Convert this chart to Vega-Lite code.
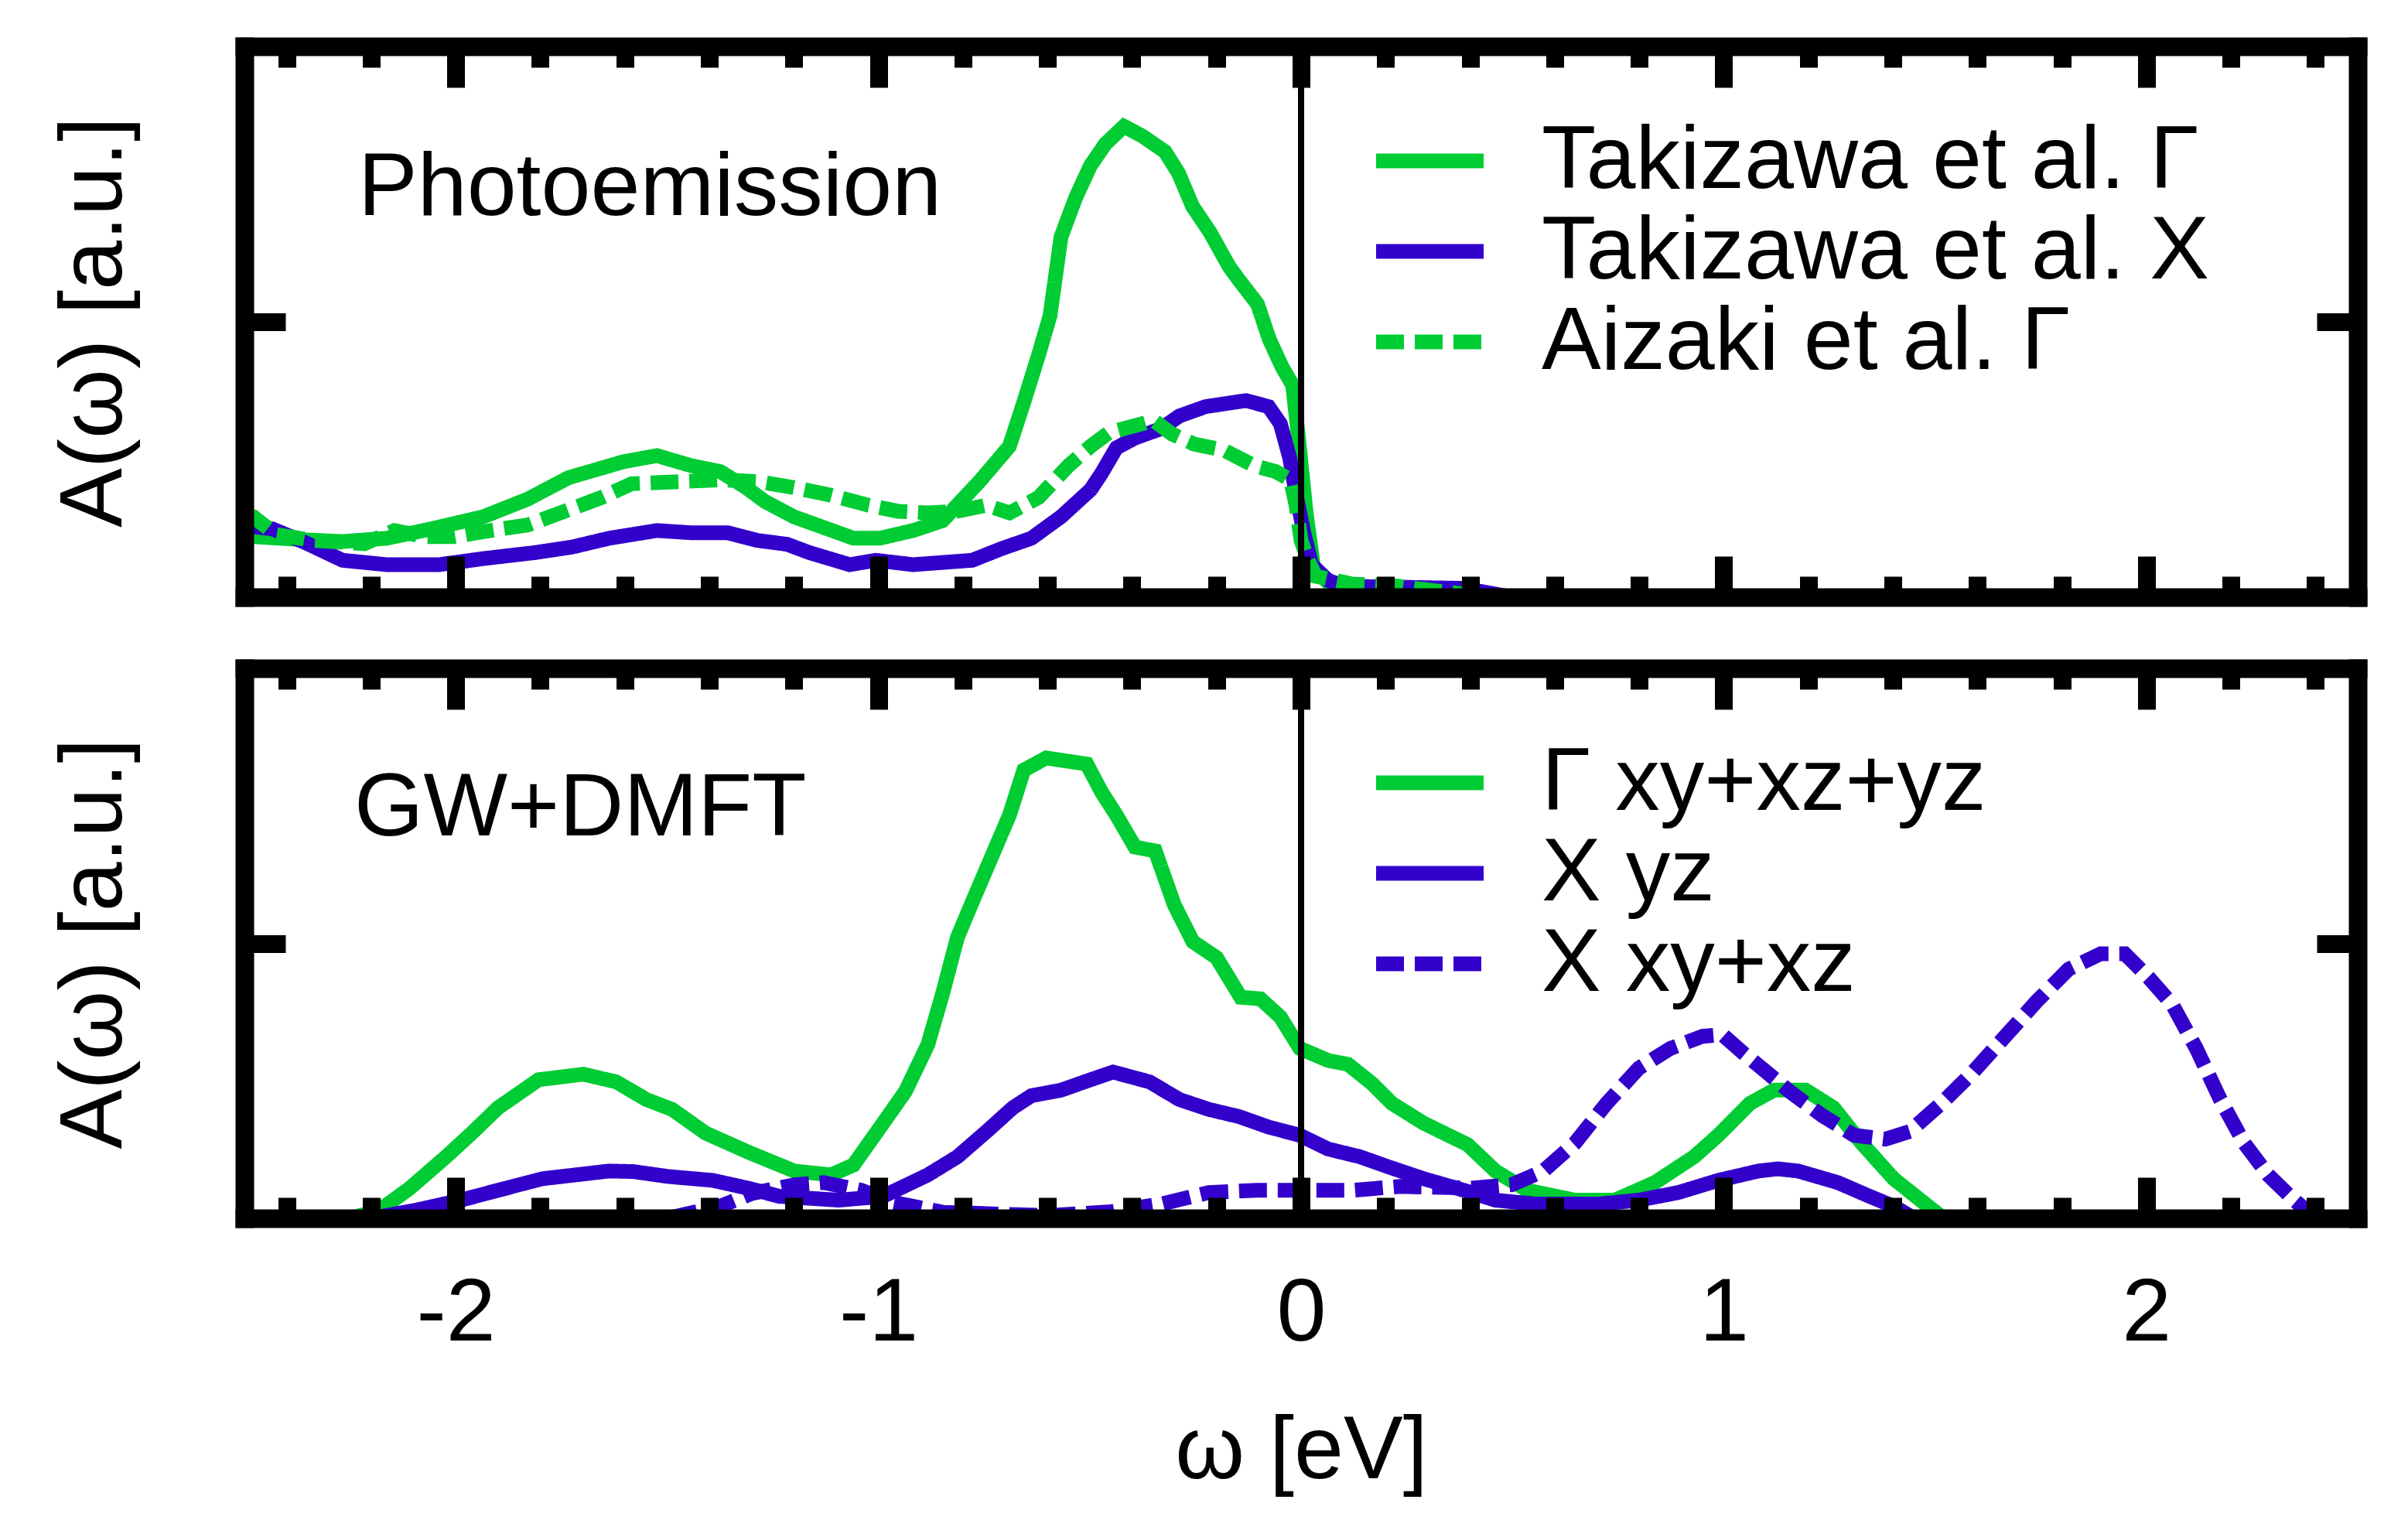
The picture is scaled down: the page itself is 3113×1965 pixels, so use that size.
{
  "$schema": "https://vega.github.io/schema/vega-lite/v6.json",
  "description": "Spectral function A(w): photoemission vs GW+DMFT",
  "background": "white",
  "padding": {"left": 64, "top": 48, "right": 20, "bottom": 10},
  "datasets": {
    "photo": [
      {"w": -2.5, "A": 0.112, "series": "Takizawa et al. Γ"},
      {"w": -2.479, "A": 0.110, "series": "Takizawa et al. Γ"},
      {"w": -2.356, "A": 0.104, "series": "Takizawa et al. Γ"},
      {"w": -2.268, "A": 0.101, "series": "Takizawa et al. Γ"},
      {"w": -2.163, "A": 0.107, "series": "Takizawa et al. Γ"},
      {"w": -2.058, "A": 0.124, "series": "Takizawa et al. Γ"},
      {"w": -1.935, "A": 0.146, "series": "Takizawa et al. Γ"},
      {"w": -1.830, "A": 0.178, "series": "Takizawa et al. Γ"},
      {"w": -1.733, "A": 0.217, "series": "Takizawa et al. Γ"},
      {"w": -1.603, "A": 0.246, "series": "Takizawa et al. Γ"},
      {"w": -1.524, "A": 0.257, "series": "Takizawa et al. Γ"},
      {"w": -1.444, "A": 0.239, "series": "Takizawa et al. Γ"},
      {"w": -1.374, "A": 0.228, "series": "Takizawa et al. Γ"},
      {"w": -1.313, "A": 0.199, "series": "Takizawa et al. Γ"},
      {"w": -1.269, "A": 0.174, "series": "Takizawa et al. Γ"},
      {"w": -1.200, "A": 0.146, "series": "Takizawa et al. Γ"},
      {"w": -1.059, "A": 0.107, "series": "Takizawa et al. Γ"},
      {"w": -0.997, "A": 0.107, "series": "Takizawa et al. Γ"},
      {"w": -0.918, "A": 0.121, "series": "Takizawa et al. Γ"},
      {"w": -0.848, "A": 0.139, "series": "Takizawa et al. Γ"},
      {"w": -0.761, "A": 0.210, "series": "Takizawa et al. Γ"},
      {"w": -0.690, "A": 0.274, "series": "Takizawa et al. Γ"},
      {"w": -0.656, "A": 0.354, "series": "Takizawa et al. Γ"},
      {"w": -0.621, "A": 0.440, "series": "Takizawa et al. Γ"},
      {"w": -0.594, "A": 0.511, "series": "Takizawa et al. Γ"},
      {"w": -0.568, "A": 0.654, "series": "Takizawa et al. Γ"},
      {"w": -0.533, "A": 0.726, "series": "Takizawa et al. Γ"},
      {"w": -0.498, "A": 0.784, "series": "Takizawa et al. Γ"},
      {"w": -0.463, "A": 0.823, "series": "Takizawa et al. Γ"},
      {"w": -0.419, "A": 0.855, "series": "Takizawa et al. Γ"},
      {"w": -0.375, "A": 0.837, "series": "Takizawa et al. Γ"},
      {"w": -0.322, "A": 0.809, "series": "Takizawa et al. Γ"},
      {"w": -0.290, "A": 0.770, "series": "Takizawa et al. Γ"},
      {"w": -0.257, "A": 0.710, "series": "Takizawa et al. Γ"},
      {"w": -0.215, "A": 0.662, "series": "Takizawa et al. Γ"},
      {"w": -0.170, "A": 0.600, "series": "Takizawa et al. Γ"},
      {"w": -0.147, "A": 0.576, "series": "Takizawa et al. Γ"},
      {"w": -0.103, "A": 0.532, "series": "Takizawa et al. Γ"},
      {"w": -0.075, "A": 0.468, "series": "Takizawa et al. Γ"},
      {"w": -0.045, "A": 0.418, "series": "Takizawa et al. Γ"},
      {"w": -0.020, "A": 0.385, "series": "Takizawa et al. Γ"},
      {"w": -0.007, "A": 0.296, "series": "Takizawa et al. Γ"},
      {"w": 0.012, "A": 0.153, "series": "Takizawa et al. Γ"},
      {"w": 0.030, "A": 0.052, "series": "Takizawa et al. Γ"},
      {"w": 0.068, "A": 0.024, "series": "Takizawa et al. Γ"},
      {"w": 0.150, "A": 0.018, "series": "Takizawa et al. Γ"},
      {"w": 0.300, "A": 0.008, "series": "Takizawa et al. Γ"},
      {"w": 0.500, "A": 0.0, "series": "Takizawa et al. Γ"},
      {"w": 2.5, "A": 0.0, "series": "Takizawa et al. Γ"},

      {"w": -2.5, "A": 0.132, "series": "Takizawa et al. X"},
      {"w": -2.479, "A": 0.128, "series": "Takizawa et al. X"},
      {"w": -2.434, "A": 0.124, "series": "Takizawa et al. X"},
      {"w": -2.356, "A": 0.099, "series": "Takizawa et al. X"},
      {"w": -2.268, "A": 0.067, "series": "Takizawa et al. X"},
      {"w": -2.163, "A": 0.059, "series": "Takizawa et al. X"},
      {"w": -2.040, "A": 0.059, "series": "Takizawa et al. X"},
      {"w": -1.935, "A": 0.070, "series": "Takizawa et al. X"},
      {"w": -1.812, "A": 0.081, "series": "Takizawa et al. X"},
      {"w": -1.725, "A": 0.091, "series": "Takizawa et al. X"},
      {"w": -1.637, "A": 0.107, "series": "Takizawa et al. X"},
      {"w": -1.524, "A": 0.121, "series": "Takizawa et al. X"},
      {"w": -1.444, "A": 0.117, "series": "Takizawa et al. X"},
      {"w": -1.357, "A": 0.117, "series": "Takizawa et al. X"},
      {"w": -1.286, "A": 0.103, "series": "Takizawa et al. X"},
      {"w": -1.216, "A": 0.096, "series": "Takizawa et al. X"},
      {"w": -1.164, "A": 0.081, "series": "Takizawa et al. X"},
      {"w": -1.068, "A": 0.059, "series": "Takizawa et al. X"},
      {"w": -1.006, "A": 0.067, "series": "Takizawa et al. X"},
      {"w": -0.918, "A": 0.059, "series": "Takizawa et al. X"},
      {"w": -0.778, "A": 0.067, "series": "Takizawa et al. X"},
      {"w": -0.709, "A": 0.088, "series": "Takizawa et al. X"},
      {"w": -0.638, "A": 0.107, "series": "Takizawa et al. X"},
      {"w": -0.568, "A": 0.146, "series": "Takizawa et al. X"},
      {"w": -0.498, "A": 0.195, "series": "Takizawa et al. X"},
      {"w": -0.472, "A": 0.225, "series": "Takizawa et al. X"},
      {"w": -0.437, "A": 0.271, "series": "Takizawa et al. X"},
      {"w": -0.393, "A": 0.289, "series": "Takizawa et al. X"},
      {"w": -0.331, "A": 0.306, "series": "Takizawa et al. X"},
      {"w": -0.288, "A": 0.329, "series": "Takizawa et al. X"},
      {"w": -0.226, "A": 0.346, "series": "Takizawa et al. X"},
      {"w": -0.130, "A": 0.357, "series": "Takizawa et al. X"},
      {"w": -0.077, "A": 0.346, "series": "Takizawa et al. X"},
      {"w": -0.049, "A": 0.315, "series": "Takizawa et al. X"},
      {"w": -0.027, "A": 0.253, "series": "Takizawa et al. X"},
      {"w": -0.012, "A": 0.188, "series": "Takizawa et al. X"},
      {"w": 0.0065, "A": 0.117, "series": "Takizawa et al. X"},
      {"w": 0.025, "A": 0.059, "series": "Takizawa et al. X"},
      {"w": 0.063, "A": 0.031, "series": "Takizawa et al. X"},
      {"w": 0.100, "A": 0.020, "series": "Takizawa et al. X"},
      {"w": 0.385, "A": 0.016, "series": "Takizawa et al. X"},
      {"w": 0.500, "A": 0.0, "series": "Takizawa et al. X"},
      {"w": 2.5, "A": 0.0, "series": "Takizawa et al. X"},

      {"w": -2.5, "A": 0.150, "series": "Aizaki et al. Γ"},
      {"w": -2.479, "A": 0.146, "series": "Aizaki et al. Γ"},
      {"w": -2.426, "A": 0.114, "series": "Aizaki et al. Γ"},
      {"w": -2.338, "A": 0.103, "series": "Aizaki et al. Γ"},
      {"w": -2.216, "A": 0.097, "series": "Aizaki et al. Γ"},
      {"w": -2.145, "A": 0.121, "series": "Aizaki et al. Γ"},
      {"w": -2.075, "A": 0.110, "series": "Aizaki et al. Γ"},
      {"w": -2.005, "A": 0.110, "series": "Aizaki et al. Γ"},
      {"w": -1.918, "A": 0.121, "series": "Aizaki et al. Γ"},
      {"w": -1.830, "A": 0.131, "series": "Aizaki et al. Γ"},
      {"w": -1.742, "A": 0.156, "series": "Aizaki et al. Γ"},
      {"w": -1.655, "A": 0.181, "series": "Aizaki et al. Γ"},
      {"w": -1.584, "A": 0.206, "series": "Aizaki et al. Γ"},
      {"w": -1.462, "A": 0.210, "series": "Aizaki et al. Γ"},
      {"w": -1.374, "A": 0.213, "series": "Aizaki et al. Γ"},
      {"w": -1.286, "A": 0.210, "series": "Aizaki et al. Γ"},
      {"w": -1.200, "A": 0.199, "series": "Aizaki et al. Γ"},
      {"w": -1.112, "A": 0.185, "series": "Aizaki et al. Γ"},
      {"w": -1.024, "A": 0.167, "series": "Aizaki et al. Γ"},
      {"w": -0.954, "A": 0.156, "series": "Aizaki et al. Γ"},
      {"w": -0.883, "A": 0.153, "series": "Aizaki et al. Γ"},
      {"w": -0.813, "A": 0.156, "series": "Aizaki et al. Γ"},
      {"w": -0.744, "A": 0.167, "series": "Aizaki et al. Γ"},
      {"w": -0.690, "A": 0.153, "series": "Aizaki et al. Γ"},
      {"w": -0.621, "A": 0.181, "series": "Aizaki et al. Γ"},
      {"w": -0.550, "A": 0.239, "series": "Aizaki et al. Γ"},
      {"w": -0.498, "A": 0.274, "series": "Aizaki et al. Γ"},
      {"w": -0.454, "A": 0.299, "series": "Aizaki et al. Γ"},
      {"w": -0.375, "A": 0.315, "series": "Aizaki et al. Γ"},
      {"w": -0.349, "A": 0.321, "series": "Aizaki et al. Γ"},
      {"w": -0.305, "A": 0.296, "series": "Aizaki et al. Γ"},
      {"w": -0.253, "A": 0.278, "series": "Aizaki et al. Γ"},
      {"w": -0.183, "A": 0.267, "series": "Aizaki et al. Γ"},
      {"w": -0.112, "A": 0.239, "series": "Aizaki et al. Γ"},
      {"w": -0.060, "A": 0.228, "series": "Aizaki et al. Γ"},
      {"w": -0.025, "A": 0.213, "series": "Aizaki et al. Γ"},
      {"w": -0.012, "A": 0.167, "series": "Aizaki et al. Γ"},
      {"w": 0.000, "A": 0.103, "series": "Aizaki et al. Γ"},
      {"w": 0.016, "A": 0.067, "series": "Aizaki et al. Γ"},
      {"w": 0.035, "A": 0.038, "series": "Aizaki et al. Γ"},
      {"w": 0.120, "A": 0.024, "series": "Aizaki et al. Γ"},
      {"w": 0.230, "A": 0.020, "series": "Aizaki et al. Γ"},
      {"w": 0.290, "A": 0.014, "series": "Aizaki et al. Γ"},
      {"w": 0.450, "A": 0.0, "series": "Aizaki et al. Γ"},
      {"w": 2.5, "A": 0.0, "series": "Aizaki et al. Γ"}
    ],
    "gw": [
      {"w": -2.5, "A": 0.0, "series": "Γ xy+xz+yz"},
      {"w": -2.25, "A": 0.0, "series": "Γ xy+xz+yz"},
      {"w": -2.180, "A": 0.015, "series": "Γ xy+xz+yz"},
      {"w": -2.110, "A": 0.054, "series": "Γ xy+xz+yz"},
      {"w": -2.023, "A": 0.112, "series": "Γ xy+xz+yz"},
      {"w": -1.962, "A": 0.155, "series": "Γ xy+xz+yz"},
      {"w": -1.900, "A": 0.201, "series": "Γ xy+xz+yz"},
      {"w": -1.804, "A": 0.252, "series": "Γ xy+xz+yz"},
      {"w": -1.698, "A": 0.262, "series": "Γ xy+xz+yz"},
      {"w": -1.620, "A": 0.248, "series": "Γ xy+xz+yz"},
      {"w": -1.549, "A": 0.216, "series": "Γ xy+xz+yz"},
      {"w": -1.488, "A": 0.198, "series": "Γ xy+xz+yz"},
      {"w": -1.409, "A": 0.155, "series": "Γ xy+xz+yz"},
      {"w": -1.304, "A": 0.119, "series": "Γ xy+xz+yz"},
      {"w": -1.199, "A": 0.086, "series": "Γ xy+xz+yz"},
      {"w": -1.112, "A": 0.079, "series": "Γ xy+xz+yz"},
      {"w": -1.059, "A": 0.097, "series": "Γ xy+xz+yz"},
      {"w": -0.989, "A": 0.173, "series": "Γ xy+xz+yz"},
      {"w": -0.936, "A": 0.231, "series": "Γ xy+xz+yz"},
      {"w": -0.883, "A": 0.316, "series": "Γ xy+xz+yz"},
      {"w": -0.848, "A": 0.409, "series": "Γ xy+xz+yz"},
      {"w": -0.813, "A": 0.511, "series": "Γ xy+xz+yz"},
      {"w": -0.778, "A": 0.575, "series": "Γ xy+xz+yz"},
      {"w": -0.734, "A": 0.654, "series": "Γ xy+xz+yz"},
      {"w": -0.690, "A": 0.733, "series": "Γ xy+xz+yz"},
      {"w": -0.656, "A": 0.815, "series": "Γ xy+xz+yz"},
      {"w": -0.603, "A": 0.837, "series": "Γ xy+xz+yz"},
      {"w": -0.507, "A": 0.826, "series": "Γ xy+xz+yz"},
      {"w": -0.472, "A": 0.775, "series": "Γ xy+xz+yz"},
      {"w": -0.437, "A": 0.733, "series": "Γ xy+xz+yz"},
      {"w": -0.393, "A": 0.675, "series": "Γ xy+xz+yz"},
      {"w": -0.345, "A": 0.668, "series": "Γ xy+xz+yz"},
      {"w": -0.300, "A": 0.570, "series": "Γ xy+xz+yz"},
      {"w": -0.256, "A": 0.503, "series": "Γ xy+xz+yz"},
      {"w": -0.200, "A": 0.474, "series": "Γ xy+xz+yz"},
      {"w": -0.143, "A": 0.402, "series": "Γ xy+xz+yz"},
      {"w": -0.096, "A": 0.399, "series": "Γ xy+xz+yz"},
      {"w": -0.049, "A": 0.366, "series": "Γ xy+xz+yz"},
      {"w": -0.003, "A": 0.309, "series": "Γ xy+xz+yz"},
      {"w": 0.064, "A": 0.287, "series": "Γ xy+xz+yz"},
      {"w": 0.111, "A": 0.280, "series": "Γ xy+xz+yz"},
      {"w": 0.168, "A": 0.245, "series": "Γ xy+xz+yz"},
      {"w": 0.215, "A": 0.209, "series": "Γ xy+xz+yz"},
      {"w": 0.290, "A": 0.173, "series": "Γ xy+xz+yz"},
      {"w": 0.394, "A": 0.134, "series": "Γ xy+xz+yz"},
      {"w": 0.460, "A": 0.086, "series": "Γ xy+xz+yz"},
      {"w": 0.535, "A": 0.051, "series": "Γ xy+xz+yz"},
      {"w": 0.648, "A": 0.033, "series": "Γ xy+xz+yz"},
      {"w": 0.742, "A": 0.033, "series": "Γ xy+xz+yz"},
      {"w": 0.837, "A": 0.065, "series": "Γ xy+xz+yz"},
      {"w": 0.930, "A": 0.112, "series": "Γ xy+xz+yz"},
      {"w": 0.987, "A": 0.151, "series": "Γ xy+xz+yz"},
      {"w": 1.062, "A": 0.209, "series": "Γ xy+xz+yz"},
      {"w": 1.119, "A": 0.233, "series": "Γ xy+xz+yz"},
      {"w": 1.194, "A": 0.233, "series": "Γ xy+xz+yz"},
      {"w": 1.260, "A": 0.201, "series": "Γ xy+xz+yz"},
      {"w": 1.326, "A": 0.137, "series": "Γ xy+xz+yz"},
      {"w": 1.402, "A": 0.072, "series": "Γ xy+xz+yz"},
      {"w": 1.477, "A": 0.026, "series": "Γ xy+xz+yz"},
      {"w": 1.520, "A": 0.0, "series": "Γ xy+xz+yz"},
      {"w": 2.5, "A": 0.0, "series": "Γ xy+xz+yz"},

      {"w": -2.5, "A": 0.0, "series": "X yz"},
      {"w": -2.2, "A": 0.0, "series": "X yz"},
      {"w": -2.093, "A": 0.015, "series": "X yz"},
      {"w": -1.988, "A": 0.033, "series": "X yz"},
      {"w": -1.900, "A": 0.051, "series": "X yz"},
      {"w": -1.795, "A": 0.072, "series": "X yz"},
      {"w": -1.637, "A": 0.086, "series": "X yz"},
      {"w": -1.580, "A": 0.085, "series": "X yz"},
      {"w": -1.497, "A": 0.076, "series": "X yz"},
      {"w": -1.392, "A": 0.069, "series": "X yz"},
      {"w": -1.304, "A": 0.054, "series": "X yz"},
      {"w": -1.234, "A": 0.040, "series": "X yz"},
      {"w": -1.094, "A": 0.033, "series": "X yz"},
      {"w": -0.989, "A": 0.040, "series": "X yz"},
      {"w": -0.883, "A": 0.079, "series": "X yz"},
      {"w": -0.813, "A": 0.112, "series": "X yz"},
      {"w": -0.744, "A": 0.158, "series": "X yz"},
      {"w": -0.682, "A": 0.201, "series": "X yz"},
      {"w": -0.638, "A": 0.223, "series": "X yz"},
      {"w": -0.568, "A": 0.233, "series": "X yz"},
      {"w": -0.498, "A": 0.252, "series": "X yz"},
      {"w": -0.445, "A": 0.266, "series": "X yz"},
      {"w": -0.358, "A": 0.248, "series": "X yz"},
      {"w": -0.288, "A": 0.216, "series": "X yz"},
      {"w": -0.218, "A": 0.198, "series": "X yz"},
      {"w": -0.147, "A": 0.185, "series": "X yz"},
      {"w": -0.077, "A": 0.166, "series": "X yz"},
      {"w": -0.003, "A": 0.151, "series": "X yz"},
      {"w": 0.064, "A": 0.126, "series": "X yz"},
      {"w": 0.139, "A": 0.112, "series": "X yz"},
      {"w": 0.205, "A": 0.094, "series": "X yz"},
      {"w": 0.290, "A": 0.072, "series": "X yz"},
      {"w": 0.385, "A": 0.051, "series": "X yz"},
      {"w": 0.460, "A": 0.033, "series": "X yz"},
      {"w": 0.554, "A": 0.026, "series": "X yz"},
      {"w": 0.705, "A": 0.026, "series": "X yz"},
      {"w": 0.799, "A": 0.033, "series": "X yz"},
      {"w": 0.893, "A": 0.047, "series": "X yz"},
      {"w": 0.987, "A": 0.069, "series": "X yz"},
      {"w": 1.082, "A": 0.086, "series": "X yz"},
      {"w": 1.128, "A": 0.090, "series": "X yz"},
      {"w": 1.176, "A": 0.086, "series": "X yz"},
      {"w": 1.270, "A": 0.065, "series": "X yz"},
      {"w": 1.345, "A": 0.040, "series": "X yz"},
      {"w": 1.402, "A": 0.022, "series": "X yz"},
      {"w": 1.450, "A": 0.0, "series": "X yz"},
      {"w": 2.5, "A": 0.0, "series": "X yz"},

      {"w": -2.5, "A": 0.0, "series": "X xy+xz"},
      {"w": -1.50, "A": 0.0, "series": "X xy+xz"},
      {"w": -1.374, "A": 0.022, "series": "X xy+xz"},
      {"w": -1.300, "A": 0.045, "series": "X xy+xz"},
      {"w": -1.199, "A": 0.061, "series": "X xy+xz"},
      {"w": -1.130, "A": 0.065, "series": "X xy+xz"},
      {"w": -1.041, "A": 0.051, "series": "X xy+xz"},
      {"w": -0.971, "A": 0.030, "series": "X xy+xz"},
      {"w": -0.848, "A": 0.011, "series": "X xy+xz"},
      {"w": -0.600, "A": 0.005, "series": "X xy+xz"},
      {"w": -0.450, "A": 0.012, "series": "X xy+xz"},
      {"w": -0.331, "A": 0.026, "series": "X xy+xz"},
      {"w": -0.218, "A": 0.047, "series": "X xy+xz"},
      {"w": -0.105, "A": 0.051, "series": "X xy+xz"},
      {"w": 0.000, "A": 0.051, "series": "X xy+xz"},
      {"w": 0.121, "A": 0.051, "series": "X xy+xz"},
      {"w": 0.234, "A": 0.058, "series": "X xy+xz"},
      {"w": 0.403, "A": 0.055, "series": "X xy+xz"},
      {"w": 0.498, "A": 0.061, "series": "X xy+xz"},
      {"w": 0.573, "A": 0.086, "series": "X xy+xz"},
      {"w": 0.648, "A": 0.137, "series": "X xy+xz"},
      {"w": 0.723, "A": 0.209, "series": "X xy+xz"},
      {"w": 0.799, "A": 0.273, "series": "X xy+xz"},
      {"w": 0.874, "A": 0.309, "series": "X xy+xz"},
      {"w": 0.950, "A": 0.331, "series": "X xy+xz"},
      {"w": 0.997, "A": 0.334, "series": "X xy+xz"},
      {"w": 1.044, "A": 0.302, "series": "X xy+xz"},
      {"w": 1.101, "A": 0.266, "series": "X xy+xz"},
      {"w": 1.157, "A": 0.230, "series": "X xy+xz"},
      {"w": 1.233, "A": 0.187, "series": "X xy+xz"},
      {"w": 1.308, "A": 0.151, "series": "X xy+xz"},
      {"w": 1.383, "A": 0.144, "series": "X xy+xz"},
      {"w": 1.440, "A": 0.158, "series": "X xy+xz"},
      {"w": 1.515, "A": 0.209, "series": "X xy+xz"},
      {"w": 1.590, "A": 0.266, "series": "X xy+xz"},
      {"w": 1.666, "A": 0.331, "series": "X xy+xz"},
      {"w": 1.741, "A": 0.395, "series": "X xy+xz"},
      {"w": 1.816, "A": 0.453, "series": "X xy+xz"},
      {"w": 1.892, "A": 0.481, "series": "X xy+xz"},
      {"w": 1.949, "A": 0.481, "series": "X xy+xz"},
      {"w": 2.005, "A": 0.438, "series": "X xy+xz"},
      {"w": 2.062, "A": 0.388, "series": "X xy+xz"},
      {"w": 2.118, "A": 0.309, "series": "X xy+xz"},
      {"w": 2.175, "A": 0.216, "series": "X xy+xz"},
      {"w": 2.231, "A": 0.137, "series": "X xy+xz"},
      {"w": 2.288, "A": 0.079, "series": "X xy+xz"},
      {"w": 2.344, "A": 0.037, "series": "X xy+xz"},
      {"w": 2.400, "A": 0.0, "series": "X xy+xz"},
      {"w": 2.5, "A": 0.0, "series": "X xy+xz"}
    ]
  },
  "spacing": 68,
  "resolve": {"scale": {"color": "independent", "strokeDash": "independent"}},
  "vconcat": [
    {
      "width": 2732,
      "height": 712,
      "data": {"name": "photo"},
      "resolve": {"axis": {"x": "independent", "y": "independent"}},
      "layer": [
        {
          "mark": {"type": "line", "strokeWidth": 19, "clip": true},
          "encoding": {
            "x": {
              "field": "w", "type": "quantitative",
              "scale": {"domain": [-2.5, 2.5], "nice": false},
              "axis": {
                "orient": "bottom", "title": null, "labels": false, "zindex": 2,
                "values": [-2.4, -2.2, -2, -1.8, -1.6, -1.4, -1.2, -1, -0.8, -0.6, -0.4, -0.2, 0, 0.2, 0.4, 0.6, 0.8, 1, 1.2, 1.4, 1.6, 1.8, 2, 2.2, 2.4],
                "tickSize": {"condition": {"test": "datum.value % 1 === 0", "value": -53}, "value": -27}
              }
            },
            "y": {
              "field": "A", "type": "quantitative",
              "scale": {"domain": [0, 1], "nice": false},
              "axis": {
                "orient": "left", "values": [0.5], "tickSize": -53, "labels": false, "zindex": 2,
                "title": "A(ω) [a.u.]", "titleX": -160, "titleY": 356, "titleAngle": 270,
                "titleBaseline": "alphabetic", "titleAlign": "center"
              }
            },
            "color": {
              "field": "series", "type": "nominal",
              "scale": {"domain": ["Takizawa et al. Γ", "Takizawa et al. X", "Aizaki et al. Γ"], "range": ["#00cc33", "#3300cc", "#00cc33"]},
              "legend": {"title": null}
            },
            "strokeDash": {
              "field": "series", "type": "nominal",
              "scale": {"domain": ["Takizawa et al. Γ", "Takizawa et al. X", "Aizaki et al. Γ"], "range": [[1, 0], [1, 0], [36, 14]]},
              "legend": {"title": null}
            }
          }
        },
        {
          "data": {"values": [{}]},
          "mark": {"type": "rule", "color": "black", "strokeWidth": 8},
          "encoding": {
            "x": {"datum": 0, "type": "quantitative", "scale": {"domain": [-2.5, 2.5], "nice": false}, "axis": null}
          }
        },
        {
          "data": {"values": [{"label": "Photoemission"}]},
          "mark": {"type": "text", "align": "left", "baseline": "alphabetic", "fontSize": 115, "font": "Liberation Sans", "color": "black"},
          "encoding": {
            "x": {
              "datum": -2.231, "type": "quantitative",
              "scale": {"domain": [-2.5, 2.5], "nice": false},
              "axis": {
                "orient": "top", "title": null, "labels": false, "zindex": 2,
                "values": [-2.4, -2.2, -2, -1.8, -1.6, -1.4, -1.2, -1, -0.8, -0.6, -0.4, -0.2, 0, 0.2, 0.4, 0.6, 0.8, 1, 1.2, 1.4, 1.6, 1.8, 2, 2.2, 2.4],
                "tickSize": {"condition": {"test": "datum.value % 1 === 0", "value": -53}, "value": -27}
              }
            },
            "y": {
              "datum": 0.694, "type": "quantitative",
              "scale": {"domain": [0, 1], "nice": false},
              "axis": {"orient": "right", "values": [0.5], "tickSize": -53, "labels": false, "title": null, "zindex": 2}
            },
            "text": {"field": "label"}
          }
        }
      ]
    },
    {
      "width": 2732,
      "height": 711,
      "data": {"name": "gw"},
      "resolve": {"axis": {"x": "independent", "y": "independent"}},
      "layer": [
        {
          "mark": {"type": "line", "strokeWidth": 19, "clip": true},
          "encoding": {
            "x": {
              "field": "w", "type": "quantitative",
              "scale": {"domain": [-2.5, 2.5], "nice": false},
              "axis": {
                "orient": "bottom", "title": "ω [eV]", "zindex": 2,
                "titleY": 335, "titleBaseline": "alphabetic", "titleAlign": "center",
                "values": [-2.4, -2.2, -2, -1.8, -1.6, -1.4, -1.2, -1, -0.8, -0.6, -0.4, -0.2, 0, 0.2, 0.4, 0.6, 0.8, 1, 1.2, 1.4, 1.6, 1.8, 2, 2.2, 2.4],
                "tickSize": {"condition": {"test": "datum.value % 1 === 0", "value": -53}, "value": -27},
                "labelExpr": "datum.value % 1 === 0 ? datum.value + '' : ''",
                "labelBaseline": "alphabetic", "labelPadding": 210
              }
            },
            "y": {
              "field": "A", "type": "quantitative",
              "scale": {"domain": [0, 1], "nice": false},
              "axis": {
                "orient": "left", "values": [0.5], "tickSize": -53, "labels": false, "zindex": 2,
                "title": "A(ω) [a.u.]", "titleX": -160, "titleY": 355.5, "titleAngle": 270,
                "titleBaseline": "alphabetic", "titleAlign": "center"
              }
            },
            "color": {
              "field": "series", "type": "nominal",
              "scale": {"domain": ["Γ xy+xz+yz", "X yz", "X xy+xz"], "range": ["#00cc33", "#3300cc", "#3300cc"]},
              "legend": {"title": null}
            },
            "strokeDash": {
              "field": "series", "type": "nominal",
              "scale": {"domain": ["Γ xy+xz+yz", "X yz", "X xy+xz"], "range": [[1, 0], [1, 0], [36, 14]]},
              "legend": {"title": null}
            }
          }
        },
        {
          "data": {"values": [{}]},
          "mark": {"type": "rule", "color": "black", "strokeWidth": 8},
          "encoding": {
            "x": {"datum": 0, "type": "quantitative", "scale": {"domain": [-2.5, 2.5], "nice": false}, "axis": null}
          }
        },
        {
          "data": {"values": [{"label": "GW+DMFT"}]},
          "mark": {"type": "text", "align": "left", "baseline": "alphabetic", "fontSize": 115, "font": "Liberation Sans", "color": "black"},
          "encoding": {
            "x": {
              "datum": -2.24, "type": "quantitative",
              "scale": {"domain": [-2.5, 2.5], "nice": false},
              "axis": {
                "orient": "top", "title": null, "labels": false, "zindex": 2,
                "values": [-2.4, -2.2, -2, -1.8, -1.6, -1.4, -1.2, -1, -0.8, -0.6, -0.4, -0.2, 0, 0.2, 0.4, 0.6, 0.8, 1, 1.2, 1.4, 1.6, 1.8, 2, 2.2, 2.4],
                "tickSize": {"condition": {"test": "datum.value % 1 === 0", "value": -53}, "value": -27}
              }
            },
            "y": {
              "datum": 0.696, "type": "quantitative",
              "scale": {"domain": [0, 1], "nice": false},
              "axis": {"orient": "right", "values": [0.5], "tickSize": -53, "labels": false, "title": null, "zindex": 2}
            },
            "text": {"field": "label"}
          }
        }
      ]
    }
  ],
  "config": {
    "view": {"stroke": null},
    "font": "Liberation Sans",
    "axis": {
      "grid": false,
      "domainColor": "black",
      "domainWidth": 24,
      "domainCap": "square",
      "tickColor": "black",
      "tickWidth": 23,
      "labelFont": "Liberation Sans",
      "labelFontSize": 115,
      "labelColor": "black",
      "labelOverlap": false,
      "labelFlush": false,
      "titleFont": "Liberation Sans",
      "titleFontSize": 115,
      "titleFontWeight": "normal",
      "titleColor": "black"
    },
    "legend": {
      "orient": "none",
      "legendX": 1453.5,
      "legendY": 89.5,
      "padding": 0,
      "labelFont": "Liberation Sans",
      "labelFontSize": 115,
      "labelColor": "black",
      "labelLimit": 3000,
      "labelOffset": 65.5,
      "labelBaseline": "middle",
      "symbolType": "stroke",
      "symbolSize": 19321,
      "symbolStrokeWidth": 19,
      "clipHeight": 117,
      "rowPadding": 0
    }
  }
}
